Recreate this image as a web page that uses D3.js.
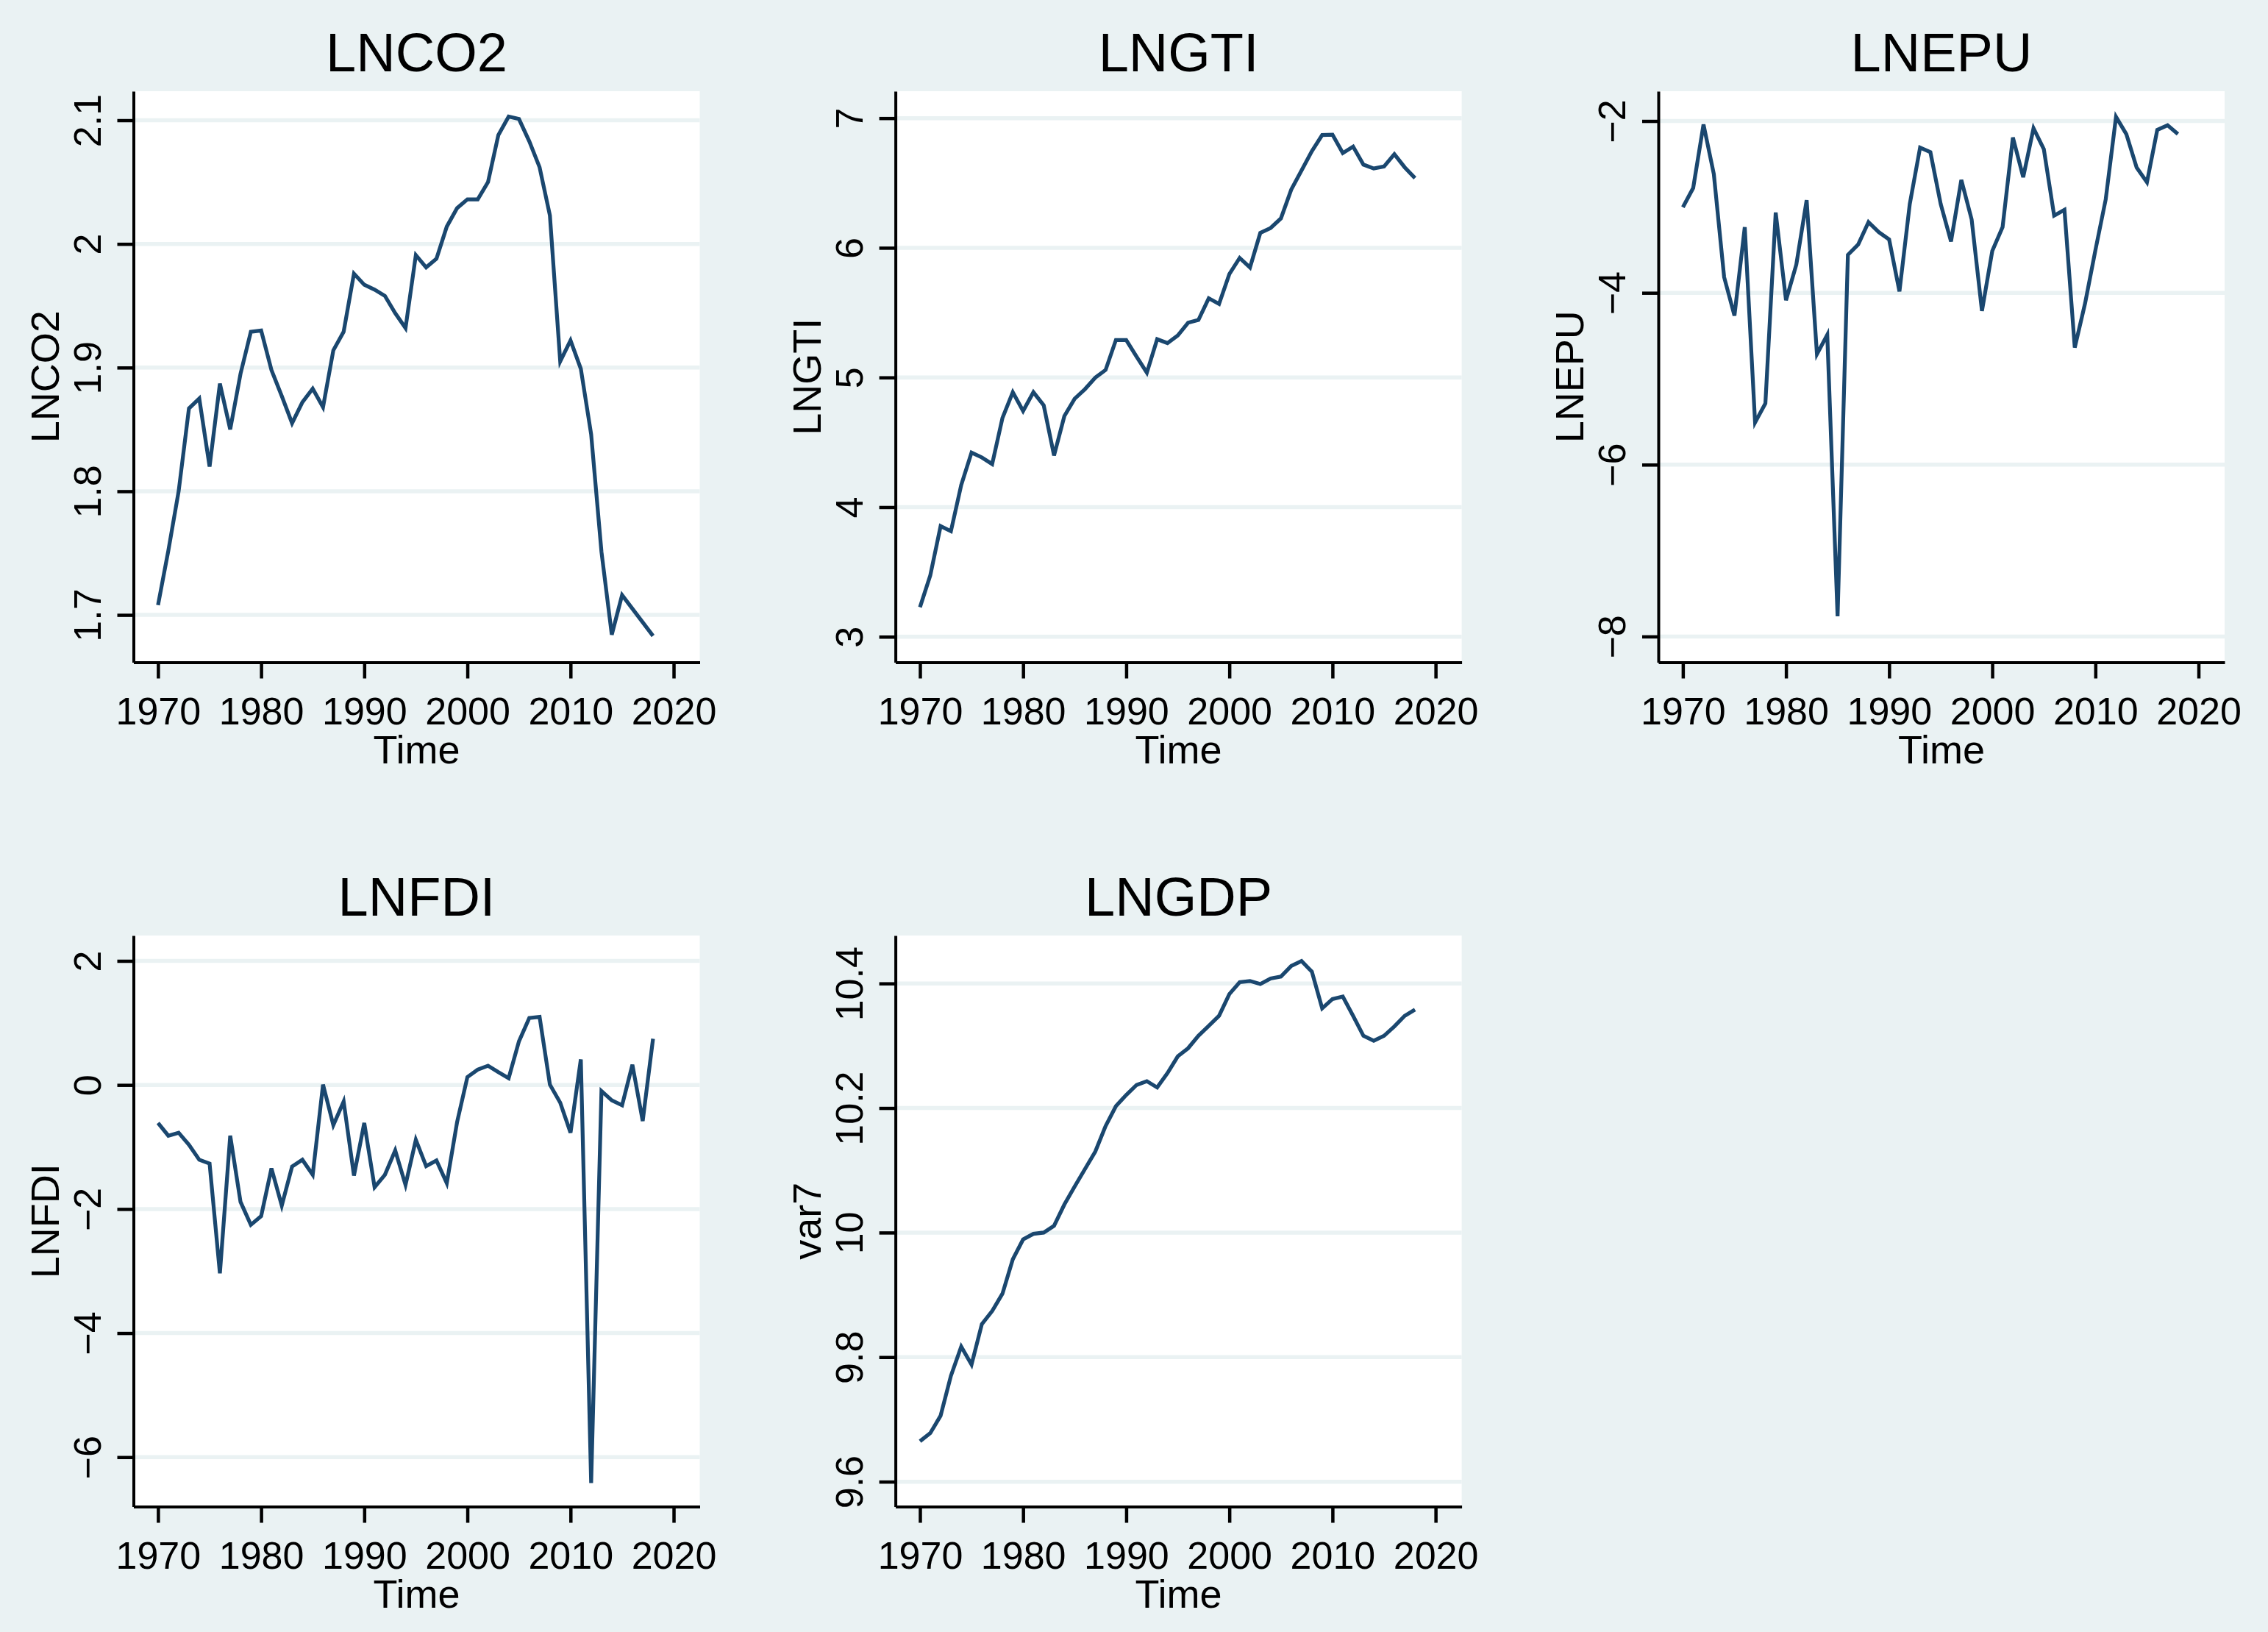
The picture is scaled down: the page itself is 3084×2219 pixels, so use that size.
<!DOCTYPE html>
<html>
<head>
<meta charset="utf-8">
<script src="https://cdn.jsdelivr.net/npm/d3@7"></script>
<style>
  html, body { margin: 0; padding: 0; background: #eaf2f3; }
  svg text { font-family: "Liberation Sans", Arial, Helvetica, sans-serif; fill: #000; }
</style>
</head>
<body>
<svg id="chart"></svg>
<script>
const W = 3084, H = 2219;

const YEARS = [1970,1971,1972,1973,1974,1975,1976,1977,1978,1979,
               1980,1981,1982,1983,1984,1985,1986,1987,1988,1989,
               1990,1991,1992,1993,1994,1995,1996,1997,1998,1999,
               2000,2001,2002,2003,2004,2005,2006,2007,2008,2009,
               2010,2011,2012,2013,2014,2015,2016,2017,2018];
const X_TICKS = [1970, 1980, 1990, 2000, 2010, 2020];

const LNCO2 = [1.708,1.752,1.800,1.867,1.875,1.820,1.887,1.850,1.895,1.929,
               1.930,1.898,1.877,1.855,1.872,1.883,1.868,1.914,1.929,1.976,
               1.967,1.963,1.958,1.944,1.932,1.991,1.981,1.988,2.014,2.029,
               2.036,2.036,2.050,2.088,2.103,2.101,2.083,2.062,2.023,1.905,
               1.922,1.899,1.846,1.751,1.684,1.716,1.705,1.694,1.683];
const LNGTI = [3.228,3.474,3.853,3.814,4.170,4.421,4.383,4.332,4.688,4.886,
               4.741,4.886,4.785,4.398,4.702,4.836,4.910,4.999,5.058,5.289,
               5.289,5.161,5.037,5.295,5.265,5.324,5.422,5.443,5.611,5.567,
               5.798,5.922,5.848,6.115,6.153,6.227,6.449,6.597,6.745,6.870,
               6.873,6.731,6.781,6.642,6.612,6.627,6.722,6.621,6.538];
const LNEPU = [-3.003,-2.779,-2.040,-2.618,-3.817,-4.265,-3.235,-5.509,-5.286,-3.065,
               -4.086,-3.670,-2.922,-4.713,-4.489,-7.765,-3.558,-3.437,-3.177,-3.294,
               -3.379,-3.983,-2.967,-2.309,-2.363,-2.967,-3.401,-2.685,-3.146,-4.211,
               -3.513,-3.235,-2.192,-2.654,-2.085,-2.327,-3.101,-3.034,-4.637,-4.122,
               -3.504,-2.913,-1.951,-2.152,-2.542,-2.712,-2.103,-2.049,-2.152];
const LNFDI = [-0.612,-0.818,-0.770,-0.964,-1.206,-1.267,-3.036,-0.818,-1.885,-2.255,
               -2.115,-1.345,-1.945,-1.315,-1.206,-1.448,0.006,-0.648,-0.267,-1.461,
               -0.612,-1.648,-1.448,-1.055,-1.612,-0.885,-1.309,-1.218,-1.582,-0.600,
               0.127,0.248,0.309,0.206,0.109,0.703,1.079,1.097,0.006,-0.285,
               -0.770,0.412,-6.418,-0.097,-0.248,-0.327,0.327,-0.582,0.745];
const LNGDP = [9.665,9.678,9.706,9.770,9.817,9.788,9.853,9.874,9.902,9.957,
               9.989,9.998,10.000,10.011,10.045,10.074,10.102,10.130,10.171,10.203,
               10.221,10.237,10.243,10.233,10.256,10.283,10.296,10.316,10.332,10.348,
               10.383,10.402,10.404,10.399,10.408,10.411,10.428,10.436,10.419,10.360,
               10.375,10.379,10.348,10.316,10.308,10.316,10.331,10.348,10.358];

const TITLES  = ["LNCO2", "LNGTI", "LNEPU", "LNFDI", "LNGDP"];
const YTITLES = ["LNCO2", "LNGTI", "LNEPU", "LNFDI", "var7"];
const SERIES  = [LNCO2, LNGTI, LNEPU, LNFDI, LNGDP];
const Y_TICKS = [
  [1.7, 1.8, 1.9, 2, 2.1],
  [3, 4, 5, 6, 7],
  [-8, -6, -4, -2],
  [-6, -4, -2, 0, 2],
  [9.6, 9.8, 10, 10.2, 10.4],
];
// value range covered by each plot region (bottom/top edge)
const Y_DOMAINS = [
  [1.6617, 2.1235],
  [2.803, 7.208],
  [-8.300, -1.653],
  [-6.797, 2.409],
  [9.560, 10.477],
];
const X_DOMAIN = [1967.62, 2022.53];

// layout
const COL_LEFT = [181.5, 1217.6, 2255];
const ROW_TOP = [124, 1272];
const PW = 770, PH = 776.5;
const BG = "#eaf2f3", LINE = "#1a476f";

const svg = d3.select("#chart").attr("width", W).attr("height", H);
svg.append("rect").attr("width", W).attr("height", H).attr("fill", BG);

const fmt = d => String(+d.toFixed(2)).replace("-", "\u2212");

function drawPanel(k) {
  const col = k % 3, row = Math.floor(k / 3);
  const left = COL_LEFT[col], top = ROW_TOP[row];
  const g = svg.append("g").attr("transform", "translate(" + left + "," + top + ")");

  const x = d3.scaleLinear().domain(X_DOMAIN).range([0, PW]);
  const y = d3.scaleLinear().domain(Y_DOMAINS[k]).range([PH, 0]);

  g.append("rect").attr("width", PW).attr("height", PH).attr("fill", "#fff");

  g.selectAll("line.grid").data(Y_TICKS[k]).join("line")
    .attr("class", "grid")
    .attr("x1", 0).attr("x2", PW)
    .attr("y1", d => y(d)).attr("y2", d => y(d))
    .attr("stroke", BG).attr("stroke-width", 5.5);

  const line = d3.line().x((d, i) => x(YEARS[i])).y(d => y(d));
  g.append("path").datum(SERIES[k])
    .attr("d", line)
    .attr("fill", "none")
    .attr("stroke", LINE)
    .attr("stroke-width", 5.2)
    .attr("stroke-linejoin", "miter");

  // y axis
  const ya = g.append("g")
    .call(d3.axisLeft(y).tickValues(Y_TICKS[k]).tickSize(22).tickSizeOuter(0).tickFormat(fmt));
  ya.select(".domain").attr("stroke", "#000").attr("stroke-width", 4);
  ya.selectAll(".tick line").attr("stroke", "#000").attr("stroke-width", 4.5);
  ya.selectAll(".tick text")
    .attr("x", 0).attr("y", -45).attr("dy", null)
    .attr("transform", "rotate(-90)")
    .attr("text-anchor", "middle")
    .style("font-size", "52px");

  // x axis
  const xa = g.append("g").attr("transform", "translate(0," + PH + ")")
    .call(d3.axisBottom(x).tickValues(X_TICKS).tickSize(22).tickSizeOuter(0).tickFormat(d3.format("d")));
  xa.select(".domain").attr("stroke", "#000").attr("stroke-width", 4);
  xa.selectAll(".tick line").attr("stroke", "#000").attr("stroke-width", 4.5);
  xa.selectAll(".tick text")
    .attr("y", 84).attr("dy", null)
    .style("font-size", "52px");
  svg.selectAll(".tick text").attr("fill", "#000");
  svg.selectAll("g").attr("font-family", null);

  // titles
  g.append("text")
    .attr("x", PW / 2).attr("y", -27)
    .attr("text-anchor", "middle")
    .style("font-size", "74px")
    .text(TITLES[k]);
  g.append("text")
    .attr("x", PW / 2).attr("y", PH + 137)
    .attr("text-anchor", "middle")
    .style("font-size", "54px")
    .text("Time");
  g.append("text")
    .attr("transform", "translate(-102," + (PH / 2) + ") rotate(-90)")
    .attr("text-anchor", "middle")
    .style("font-size", "54px")
    .text(YTITLES[k]);
}

SERIES.forEach((s, k) => drawPanel(k));
</script>
</body>
</html>
